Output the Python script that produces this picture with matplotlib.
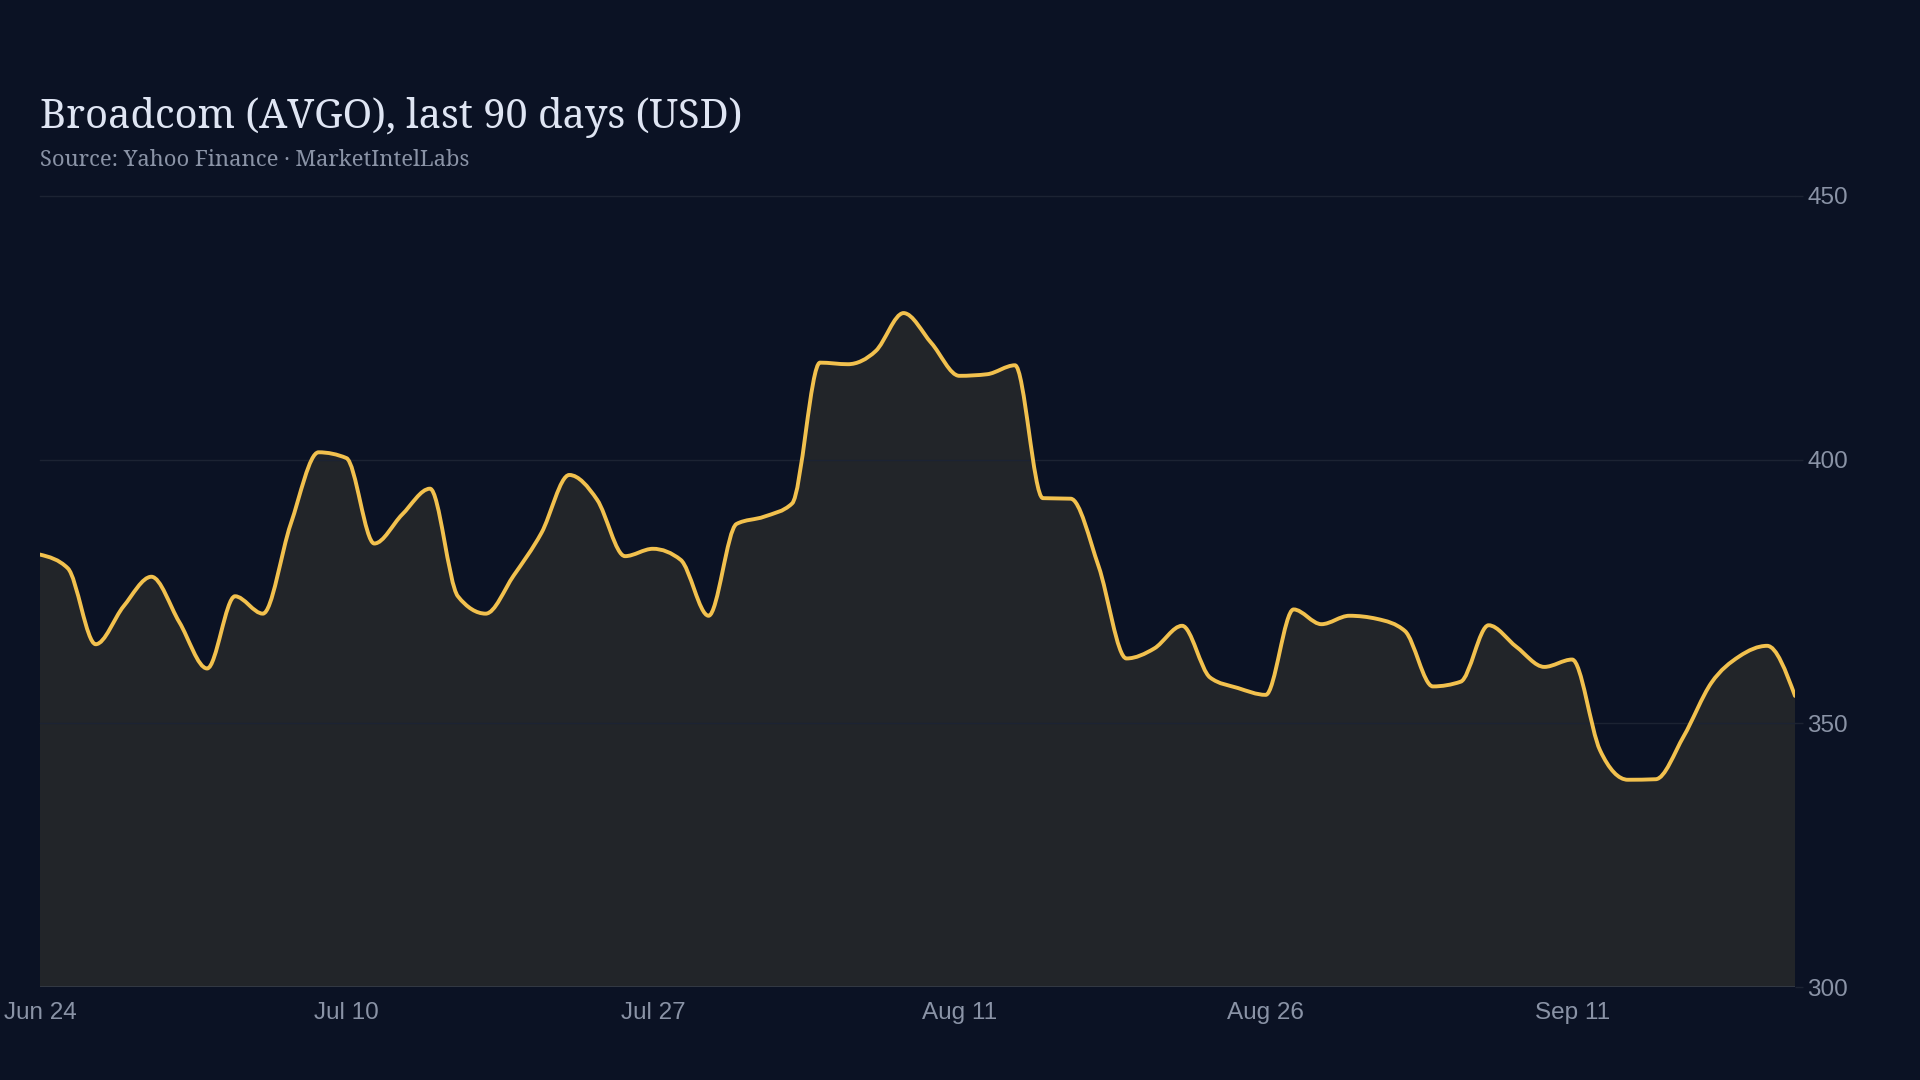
import numpy as np
import matplotlib.pyplot as plt
from matplotlib.path import Path
from matplotlib.patches import PathPatch

# closing prices, one per trading session
prices = [382.0, 379.4, 365.0, 372.2, 377.8, 369.2, 360.4, 374.1, 370.8, 387.8,
          401.4, 400.3, 384.1, 389.6, 394.5, 374.1, 370.8, 378.0, 386.1, 397.1,
          392.4, 381.7, 383.1, 381.0, 370.4, 387.8, 389.2, 391.7, 418.4, 418.1,
          420.6, 427.8, 422.1, 415.9, 416.2, 417.9, 392.7, 392.6, 379.8, 362.3,
          364.2, 368.5, 358.7, 356.7, 355.4, 371.6, 368.8, 370.4, 369.8, 367.5,
          357.0, 357.9, 368.6, 364.5, 360.7, 362.1, 344.9, 339.3, 339.4, 347.5,
          357.7, 362.7, 364.7, 355.2]
tick_idx = [0, 11, 22, 33, 44, 55]
tick_labels = ['Jun 24', 'Jul 10', 'Jul 27', 'Aug 11', 'Aug 26', 'Sep 11']
y_ticks = [300, 350, 400, 450]

BG = '#0b1224'
FILL = '#222529'
LINE = '#f2c14e'
GRID = '#1c2333'
MUTED = '#8a93a6'


def monotone_path(x, y):
    # monotone cubic (like d3 curveMonotoneX) as bezier segments
    x = np.asarray(x, float)
    y = np.asarray(y, float)
    n = len(x)
    h = np.diff(x)
    s = np.diff(y) / h
    t = np.zeros(n)
    for i in range(1, n - 1):
        p = (s[i - 1] * h[i] + s[i] * h[i - 1]) / (h[i - 1] + h[i])
        t[i] = (np.sign(s[i - 1]) + np.sign(s[i])) * min(abs(s[i - 1]), abs(s[i]), 0.5 * abs(p))
    t[0] = (3 * s[0] - t[1]) / 2
    t[-1] = (3 * s[-1] - t[-2]) / 2
    verts = [(x[0], y[0])]
    codes = [Path.MOVETO]
    for i in range(n - 1):
        dx = (x[i + 1] - x[i]) / 3
        verts += [(x[i] + dx, y[i] + dx * t[i]),
                  (x[i + 1] - dx, y[i + 1] - dx * t[i + 1]),
                  (x[i + 1], y[i + 1])]
        codes += [Path.CURVE4] * 3
    return verts, codes


days = np.arange(len(prices))
verts, codes = monotone_path(days, prices)

fig = plt.figure(figsize=(19.2, 10.8), dpi=100, facecolor=BG)
ax = fig.add_axes([40 / 1920, 1 - 987 / 1080, 1755 / 1920, 791 / 1080])
ax.set_facecolor(BG)

# area under the curve
base = y_ticks[0]
area = Path(verts + [(days[-1], base), (days[0], base), (days[0], base)],
            codes + [Path.LINETO, Path.LINETO, Path.CLOSEPOLY])
ax.add_patch(PathPatch(area, facecolor=FILL, edgecolor='none', zorder=1))
ax.add_patch(PathPatch(Path(verts, codes), facecolor='none', edgecolor=LINE,
                       lw=2.8, capstyle='round', joinstyle='round', zorder=3))

ax.set_xlim(days[0], days[-1])
ax.set_ylim(300, 450)

for v in y_ticks[1:]:
    ax.axhline(v, color=GRID, lw=1, zorder=2, clip_on=False)
ax.axhline(300, color='#363c48', lw=1.2, zorder=2)

ax.yaxis.tick_right()
ax.set_yticks(y_ticks)
ax.tick_params(axis='y', length=6, width=1, color=GRID, pad=3,
               labelsize=17.5, labelcolor=MUTED)
ax.set_xticks(tick_idx)
ax.set_xticklabels(tick_labels)
ax.tick_params(axis='x', length=0, pad=11, labelsize=17.5, labelcolor=MUTED)
for lab in ax.get_xticklabels() + ax.get_yticklabels():
    lab.set_fontfamily(['Liberation Sans', 'DejaVu Sans'])
for sp in ax.spines.values():
    sp.set_visible(False)

fig.text(40 / 1920, 1 - 118 / 1080, 'Broadcom (AVGO), last 90 days (USD)',
         fontsize=28.7, color='#dfe5f3', va='center', ha='left',
         family=['Noto Serif', 'DejaVu Serif'])
fig.text(40 / 1920, 1 - 160 / 1080, 'Source: Yahoo Finance · MarketIntelLabs',
         fontsize=15.8, color=MUTED, va='center', ha='left',
         family=['Noto Serif', 'DejaVu Serif'])

fig.savefig('out.png', dpi=100, facecolor=BG)
